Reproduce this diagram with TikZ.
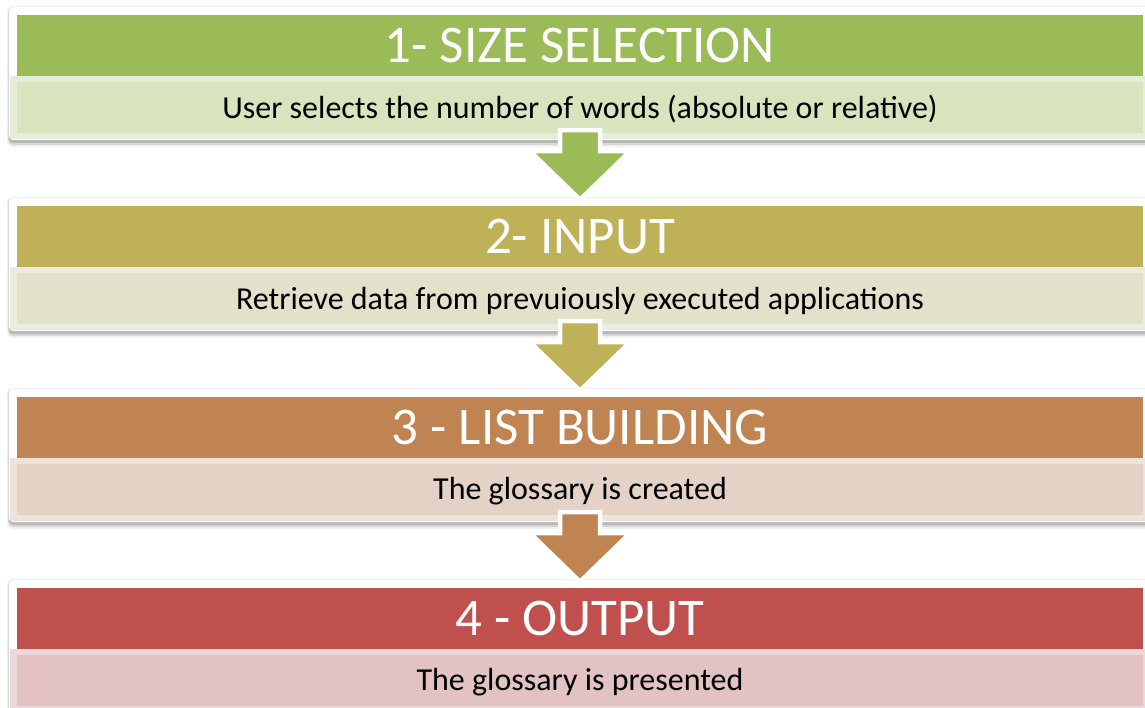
\documentclass[tikz,border=0pt]{standalone}
\usepackage{fontspec}
\setmainfont{Carlito}
\usetikzlibrary{calc}
\definecolor{ga}{HTML}{9BBB59}\definecolor{gb}{HTML}{D7E4BD}\definecolor{gc}{HTML}{E4EDD6}
\definecolor{oa}{HTML}{BFB158}\definecolor{ob}{HTML}{E3E1CA}\definecolor{oc}{HTML}{ECEBDD}
\definecolor{ba}{HTML}{C08352}\definecolor{bb}{HTML}{E3D2C5}\definecolor{bc}{HTML}{EDE3DB}
\definecolor{ra}{HTML}{C0504D}\definecolor{rb}{HTML}{E2C2C2}\definecolor{rc}{HTML}{ECD8D8}
\tikzset{
  headbox/.style={minimum width=1126pt, minimum height=61pt, inner sep=0pt},
  subbox/.style={minimum width=1126pt, minimum height=51pt, inner sep=0pt},
  headtext/.style={inner sep=0pt, text=white, font=\fontsize{53}{56}\selectfont},
  subtext/.style={inner sep=0pt, text=black, font=\fontsize{32}{36}\selectfont},
  shade/.style={fill=black, opacity=#1},
}
\newcommand\flowblock[7]{%
  % #1 name, #2 top, #3 head colour, #4 sub colour, #5 sub border colour, #6 title, #7 text
  \fill[shade=0.06, rounded corners=6pt] (7,#2-9) rectangle (1152,#2+132);
  \fill[shade=0.10, rounded corners=5pt] (8,#2-8) rectangle (1151,#2+130);
  \fill[shade=0.14, rounded corners=4pt] (9,#2-7) rectangle (1150,#2+128);
  \fill[white, rounded corners=4pt] (9,#2-8) rectangle (1150,#2+125);
  \node[headbox, fill=#3] (h#1) at (580,#2+30.5) {};
  \node[headtext] (ht#1) at (580,#2+30) {#6};
  \fill[#5] (10,#2+61) rectangle (1145,#2+124);
  \node[subbox, fill=#4] (s#1) at (580,#2+92.5) {};
  \node[subtext] (st#1) at (580,#2+94.5) {#7};
}
\newcommand\flowarrow[3]{%
  % #1 from sub node, #2 to head node, #3 colour
  \path let \p1=(#1.south), \p2=(#2.north) in
    coordinate (a0) at (\x1-20pt,\y1+3pt)
    coordinate (a1) at (\x1+20pt,\y1+3pt)
    coordinate (a2) at (\x1+20pt,\y1-18pt)
    coordinate (a3) at (\x1+50pt,\y1-18pt)
    coordinate (a4) at (\x1,\y2+6pt)
    coordinate (a5) at (\x1-50pt,\y1-18pt)
    coordinate (a6) at (\x1-20pt,\y1-18pt);
  \fill[shade=0.18, shift={(2pt,3pt)}] (a0)--(a1)--(a2)--(a3)--(a4)--(a5)--(a6)--cycle;
  \filldraw[fill=#3, draw=white, line width=4.5pt, line join=miter] (a0)--(a1)--(a2)--(a3)--(a4)--(a5)--(a6)--cycle;
}
\begin{document}
\begin{tikzpicture}[x=1pt, y=-1pt]
\useasboundingbox[fill=white] (0,0) rectangle (1145,708);
\flowblock{1}{15}{ga}{gb}{gc}{1- SIZE SELECTION}{User selects the number of words (absolute or relative)}
\flowblock{2}{206}{oa}{ob}{oc}{2- INPUT}{Retrieve data from prevuiously executed applications}
\flowblock{3}{397}{ba}{bb}{bc}{3 - LIST BUILDING}{The glossary is created}
\flowblock{4}{588}{ra}{rb}{rc}{4 - OUTPUT}{The glossary is presented}
\flowarrow{s1}{h2}{ga}
\flowarrow{s2}{h3}{oa}
\flowarrow{s3}{h4}{ba}
\end{tikzpicture}
\end{document}
